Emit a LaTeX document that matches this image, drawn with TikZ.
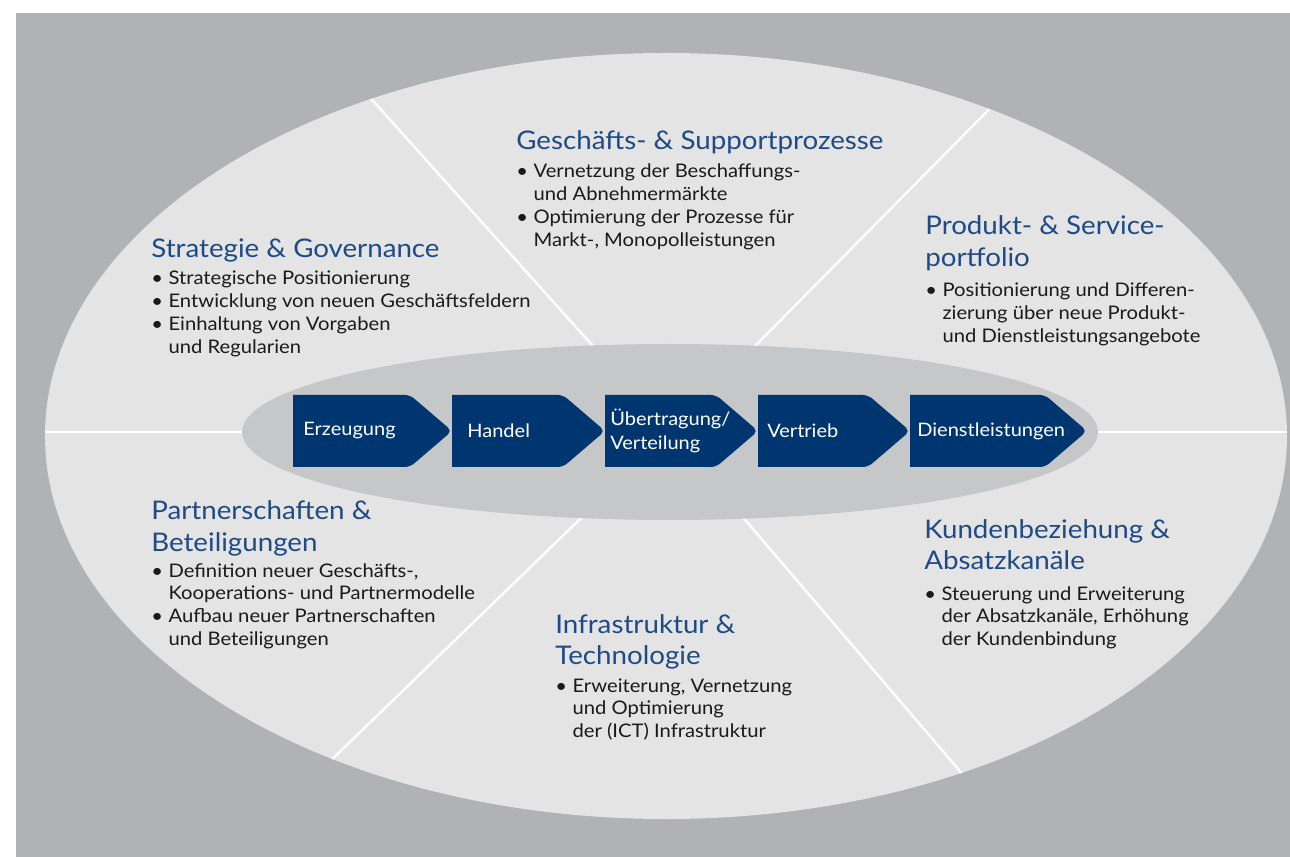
\documentclass[tikz,border=0pt]{standalone}
\usepackage{fontspec}
\setmainfont[FakeStretch=1.08]{Lato}
\usetikzlibrary{positioning}

\definecolor{hintergrund}{HTML}{B1B2B4}
\definecolor{aussen}{HTML}{E3E4E3}
\definecolor{innen}{HTML}{C6C7C9}
\definecolor{dunkelblau}{HTML}{003670}
\definecolor{titelblau}{HTML}{1E4A86}
\definecolor{schrift}{HTML}{1A1A1A}

\newlength\einzug
\setlength\einzug{9.8pt}
\newcommand\punkt[1]{\par\noindent\hangindent=\einzug\hangafter=1\makebox[\einzug][l]{\textbullet}#1}
\newcommand\spalte[1]{\parbox[t]{9cm}{\raggedright #1}}

\tikzset{
  titel/.style={anchor=base west, inner sep=0pt, text=titelblau, font=\fontsize{14.6}{17.8}\selectfont},
  liste/.style={anchor=base west, inner sep=0pt, text=schrift, font=\fontsize{10.65}{13}\selectfont},
  trenner/.style={draw=white, line width=1.4pt},
  pfeiltext/.style={anchor=west, inner sep=0pt, text=white, align=left, font=\fontsize{10.55}{13.5}\selectfont},
}

\begin{document}
\begin{tikzpicture}[x=0.02cm, y=-0.02cm]
  \useasboundingbox (0,0) rectangle (1290,857);
  \fill[white] (0,0) rectangle (1290,857);
  \fill[hintergrund] (16,13) rectangle (1290,857);

  % grosse Ellipse mit Trennlinien
  \fill[aussen] (666,436) ellipse [x radius=621, y radius=383];
  \coordinate (mitte) at (670,432);
  \coordinate (ol) at (340,64);
  \coordinate (or) at (1030,68);
  \coordinate (ul) at (290,800);
  \coordinate (ur) at (1000,818);
  \coordinate (li) at (30,432);
  \coordinate (re) at (1300,432);
  \begin{scope}
    \clip (666,436) ellipse [x radius=621, y radius=383];
    \draw[trenner] (ol) -- (mitte);
    \draw[trenner] (or) -- (mitte);
    \draw[trenner] (ul) -- (mitte);
    \draw[trenner] (ur) -- (mitte);
    \draw[trenner] (li) -- (re);
  \end{scope}

  % innere Ellipse mit Wertschoepfungskette
  \fill[innen] (670,432) ellipse [x radius=428, y radius=88];
  \foreach \n/\xa/\xb/\xt/\txt in {erz/293/452/303/Erzeugung, han/452/605/467/Handel,
      ueb/605/758/610/{Übertragung/\\Verteilung}, ver/758/910/767/Vertrieb,
      die/910/1087/917/Dienstleistungen}{
    \fill[dunkelblau] (\xa,395) [rounded corners=3pt] -- ({\xb-42},395) -- (\xb,431)
      -- ({\xb-42},467) [sharp corners] -- (\xa,467) -- cycle;
    \node[pfeiltext] (\n) at (\xt,431) {\txt};
  }

  % Strategie
  \node[titel] (sgt) at (151,258) {\spalte{Strategie \& Governance}};
  \node[liste] (sgl) at (151,285) {\spalte{\punkt{Strategische Positionierung}
    \punkt{Entwicklung von neuen Geschäftsfeldern}
    \punkt{Einhaltung von Vorgaben\newline und Regularien}}};

  % Prozesse
  \node[titel] (gpt) at (516,150) {\spalte{Geschäfts- \& Supportprozesse}};
  \node[liste] (gpl) at (516,178) {\spalte{\punkt{Vernetzung der Beschaffungs-\newline und Abnehmermärkte}
    \punkt{Optimierung der Prozesse für\newline Markt-, Monopolleistungen}}};

  % Portfolio
  \node[titel] (pst) at (925,235) {\spalte{Produkt- \& Service-\\portfolio}};
  \node[liste] (psl) at (925,297) {\spalte{\punkt{Positionierung und Differen-\newline zierung über neue Produkt-\newline und Dienstleistungsangebote}}};

  % Partnerschaften
  \node[titel] (pbt) at (151,520) {\spalte{Partnerschaften \&\\Beteiligungen}};
  \node[liste] (pbl) at (151,577) {\spalte{\punkt{Definition neuer Geschäfts-,\newline Kooperations- und Partnermodelle}
    \punkt{Aufbau neuer Partnerschaften\newline und Beteiligungen}}};

  % Infrastruktur
  \node[titel] (itt) at (555,633) {\spalte{Infrastruktur \&\\Technologie}};
  \node[liste] (itl) at (555,692) {\spalte{\punkt{Erweiterung, Vernetzung\newline und Optimierung\newline der (ICT) Infrastruktur}}};

  % Kunden
  \node[titel] (kat) at (924,538) {\spalte{Kundenbeziehung \&\\Absatzkanäle}};
  \node[liste] (kal) at (924,600) {\spalte{\punkt{Steuerung und Erweiterung\newline der Absatzkanäle, Erhöhung\newline der Kundenbindung}}};
\end{tikzpicture}
\end{document}
